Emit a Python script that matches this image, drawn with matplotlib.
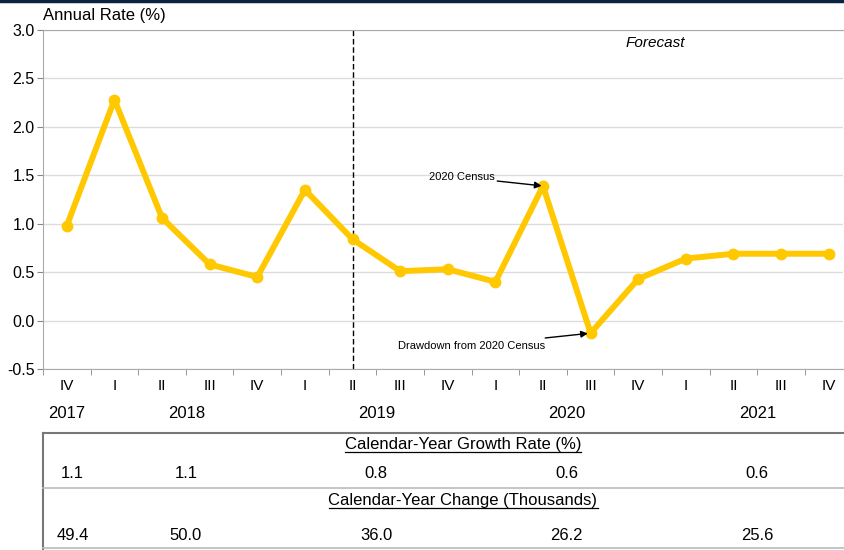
import matplotlib
matplotlib.use("Agg")
import matplotlib.pyplot as plt
from matplotlib.transforms import blended_transform_factory
from matplotlib.lines import Line2D

plt.rcParams['font.family'] = ['Liberation Sans', 'DejaVu Sans']

# quarterly annual rate, 2017 Q4 .. 2021 Q4
quarters = ["IV", "I", "II", "III", "IV", "I", "II", "III", "IV",
            "I", "II", "III", "IV", "I", "II", "III", "IV"]
rate = [0.98, 2.28, 1.06, 0.58, 0.45, 1.35, 0.84, 0.51, 0.53,
        0.40, 1.39, -0.13, 0.43, 0.64, 0.69, 0.69, 0.69]

years = ["2017", "2018", "2019", "2020", "2021"]
year_pos = [0.0, 2.52, 6.5, 10.5, 14.5]
growth_rate = ["1.1", "1.1", "0.8", "0.6", "0.6"]
change_thousands = ["49.4", "50.0", "36.0", "26.2", "25.6"]
value_pos = [0.12, 2.5, 6.5, 10.5, 14.5]

forecast_start = 6  # 2019 Q2

W, H = 844, 550
fig = plt.figure(figsize=(W / 100, H / 100), dpi=100)
ax = fig.add_axes([43 / W, 1 - 369 / H, 800 / W, 339 / H])

x = list(range(len(rate)))
ax.plot(x, rate, color="#FFC800", lw=4.3, marker="o", ms=7.5,
        solid_joinstyle="round", zorder=3)

ax.set_xlim(-0.5, 16.3)
ax.set_ylim(-0.5, 3.0)
ax.set_yticks([-0.5, 0, 0.5, 1.0, 1.5, 2.0, 2.5, 3.0])
ax.set_yticklabels(["-0.5", "0.0", "0.5", "1.0", "1.5", "2.0", "2.5", "3.0"],
                   fontsize=11.5)
ax.grid(axis="y", color="#dcdcdc", lw=1)
ax.set_axisbelow(True)

ax.set_xticks(x)
ax.set_xticklabels(quarters, fontsize=11)
ax.set_xticks([i + 0.5 for i in range(-1, 16)], minor=True)
ax.tick_params(axis="x", which="major", length=0, pad=7)
ax.tick_params(axis="x", which="minor", length=4, color="#888888")
ax.tick_params(axis="y", length=4, color="#888888", pad=2)

ax.spines["right"].set_visible(False)
for side in ["left", "bottom", "top"]:
    ax.spines[side].set_color("#aaaaaa")

ax.axvline(forecast_start, color="black", lw=1, ls=(0, (4, 2)), zorder=2)

ax.text(0, 1.02, "Annual Rate (%)", transform=ax.transAxes, fontsize=12,
        ha="left", va="bottom")
ax.text(12.35, 2.87, "Forecast", fontsize=11, style="italic",
        ha="center", va="center")

ax.annotate("2020 Census", xy=(10, rate[10]), xytext=(8.98, 1.48),
            fontsize=8, ha="right", va="center",
            arrowprops=dict(arrowstyle="-|>", color="black", lw=1,
                            mutation_scale=10, shrinkA=0, shrinkB=1))
ax.annotate("Drawdown from 2020 Census", xy=(11, rate[11]), xytext=(10.05, -0.26),
            fontsize=8, ha="right", va="center",
            arrowprops=dict(arrowstyle="-|>", color="black", lw=1,
                            mutation_scale=10, shrinkA=0, shrinkB=2))

# year labels and the calendar-year table, positioned along the data x axis
tr = blended_transform_factory(ax.transData, fig.transFigure)
for pos, yr in zip(year_pos, years):
    fig.text(pos, 1 - 413 / H, yr, transform=tr, fontsize=12,
             ha="center", va="center")

box_left, box_top, box_mid, box_bot = 43 / W, 1 - 433 / H, 1 - 488 / H, 1 - 548 / H
fig.add_artist(Line2D([box_left, 1], [box_top, box_top], color="#777777", lw=1.5,
                      transform=fig.transFigure))
fig.add_artist(Line2D([box_left, box_left], [box_top, 0], color="#777777", lw=1.5,
                      transform=fig.transFigure))
fig.add_artist(Line2D([box_left, 1], [box_mid, box_mid], color="#bbbbbb", lw=1.2,
                      transform=fig.transFigure))
fig.add_artist(Line2D([box_left, 1], [box_bot, box_bot], color="#bbbbbb", lw=1.2,
                      transform=fig.transFigure))

headings = [
    fig.text(463 / W, 1 - 445 / H, "Calendar-Year Growth Rate (%)", fontsize=12,
             ha="center", va="center"),
    fig.text(463 / W, 1 - 501 / H, "Calendar-Year Change (Thousands)", fontsize=12,
             ha="center", va="center"),
]

for pos, g, c in zip(value_pos, growth_rate, change_thousands):
    fig.text(pos, 1 - 473 / H, g, transform=tr, fontsize=12, ha="center", va="center")
    fig.text(pos, 1 - 535 / H, c, transform=tr, fontsize=12, ha="center", va="center")

# underline the table headings using their rendered extents
fig.canvas.draw()
for t in headings:
    bb = t.get_window_extent().transformed(fig.transFigure.inverted())
    uy = bb.y0 + 0.3 / H
    fig.add_artist(Line2D([bb.x0, bb.x1], [uy, uy], color="black", lw=0.9,
                          transform=fig.transFigure))

# dark band across the very top
fig.add_artist(Line2D([0, 1], [0.998, 0.998], color="#0c2340", lw=2.5,
                      transform=fig.transFigure))

fig.savefig("out.png", dpi=100)
